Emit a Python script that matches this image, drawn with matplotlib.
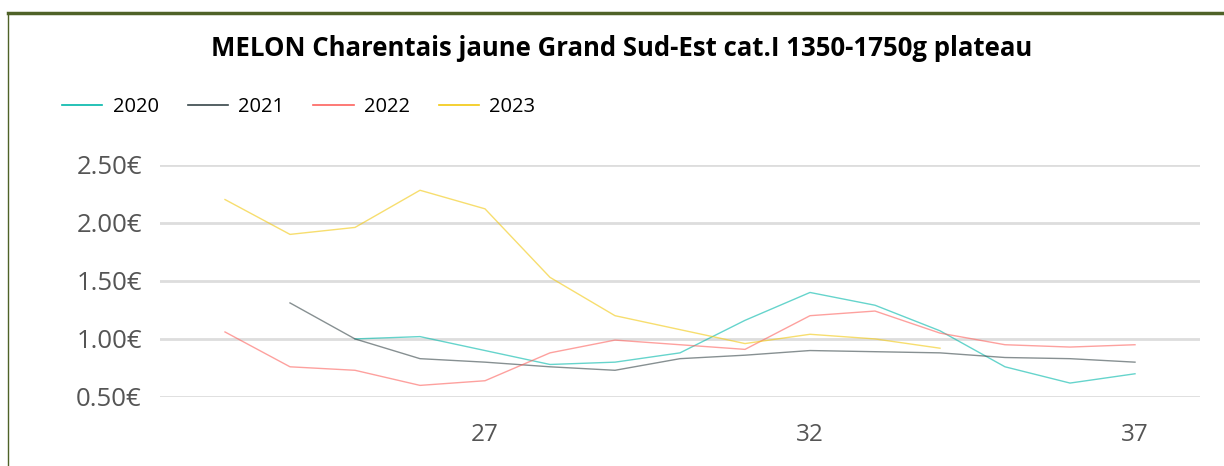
import numpy as np
import matplotlib.pyplot as plt
from matplotlib.lines import Line2D

weeks = list(range(23, 38))

# prix hebdo (None = pas de cotation)
p2020 = [None, None, 1.00, 1.02, 0.90, 0.78, 0.80, 0.88, 1.16, 1.40, 1.29, 1.07, 0.76, 0.62, 0.70]
p2021 = [None, 1.31, 1.00, 0.83, 0.80, 0.76, 0.73, 0.83, 0.86, 0.90, 0.89, 0.88, 0.84, 0.83, 0.80]
p2022 = [1.06, 0.76, 0.73, 0.60, 0.64, 0.88, 0.99, 0.95, 0.91, 1.20, 1.24, 1.05, 0.95, 0.93, 0.95]
p2023 = [2.20, 1.90, 1.96, 2.28, 2.12, 1.53, 1.20, 1.08, 0.96, 1.04, 1.00, 0.92, None, None, None]

years = ['2020', '2021', '2022', '2023']
series = [p2020, p2021, p2022, p2023]
colors = ['#01B8AA', '#374649', '#FD625E', '#F2C80F']

x_ticks = [27, 32, 37]
y_ticks = [0.5, 1.0, 1.5, 2.0, 2.5]

plt.rcParams['font.family'] = ['Open Sans', 'DejaVu Sans']

fig = plt.figure(figsize=(12.24, 4.66), dpi=100)
ax = fig.add_axes([160 / 1224, 69 / 466, 1040 / 1224, 232.3 / 466])

for vals, c in zip(series, colors):
    y = np.array([np.nan if v is None else v for v in vals])
    ax.plot(weeks, y, color=c, lw=1.0, alpha=0.6)

ax.set_xlim(22, 38)
ax.set_ylim(0.5, 2.5)
ax.set_xticks(x_ticks)
ax.set_yticks(y_ticks)
ax.set_yticklabels([f'{v:.2f}€' for v in y_ticks])
ax.tick_params(length=0, labelcolor='#555555')
ax.tick_params(axis='y', pad=13, labelsize=18.5)
ax.tick_params(axis='x', pad=19, labelsize=17.5)
ax.grid(axis='y', color='#dddddd', lw=2)
ax.set_axisbelow(True)
for s in ax.spines.values():
    s.set_visible(False)

fig.text(0.508, 0.895, 'MELON Charentais jaune Grand Sud-Est cat.I 1350-1750g plateau',
         ha='center', va='center', fontsize=18.5, fontweight='bold', color='black')

handles = [Line2D([], [], color=c, lw=1.2) for c in colors]
fig.legend(handles, years, loc='center left', bbox_to_anchor=(0.036, 0.771), ncol=4,
           frameon=False, fontsize=14.5, handlelength=2.0, handletextpad=0.5,
           columnspacing=1.45)

# cadre
fig.add_artist(Line2D([8 / 1224, 1], [1 - 13 / 466, 1 - 13 / 466], color='#4F6228', lw=2.5))
fig.add_artist(Line2D([8 / 1224, 8 / 1224], [0, 1 - 13 / 466], color='#4F6228', lw=1))

fig.savefig('out.png', dpi=100)
